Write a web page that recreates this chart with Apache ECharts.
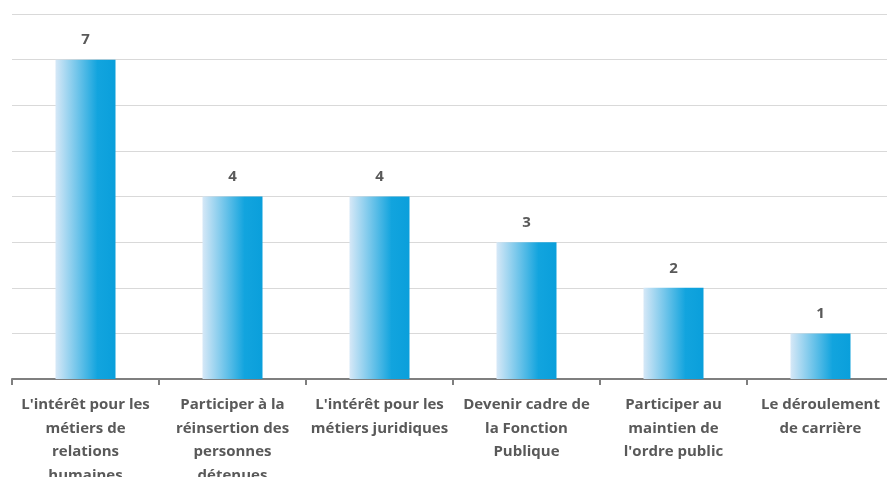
<!DOCTYPE html>
<html>
<head>
<meta charset="utf-8">
<script src="https://cdn.jsdelivr.net/npm/echarts@6/dist/echarts.min.js"></script>
<style>
  html, body { margin: 0; padding: 0; background: #fff; }
  #chart { width: 887px; height: 477px; }
</style>
</head>
<body>
<div id="chart"></div>
<script>
    // categories (line breaks as in the picture)
    const categories = [
        "L'intérêt pour les\nmétiers de\nrelations\nhumaines",
        "Participer à la\nréinsertion des\npersonnes\ndétenues",
        "L'intérêt pour les\nmétiers juridiques",
        "Devenir cadre de\nla Fonction\nPublique",
        "Participer au\nmaintien de\nl'ordre public",
        "Le déroulement\nde carrière"
    ];
    const values = [7, 4, 4, 3, 2, 1];

    let chart = echarts.init(document.getElementById('chart'));
    let option = {
        animation: false,
        grid: {
            left: 12,
            right: -7,
            top: 14,
            bottom: 98,
            outerBoundsMode: 'none',
            containLabel: false
        },
        xAxis: {
            type: 'category',
            data: categories,
            axisLine: {
                lineStyle: { color: '#7f7f7f', width: 2 }
            },
            axisTick: {
                show: true,
                length: 6,
                lineStyle: { color: '#7f7f7f', width: 2 }
            },
            axisLabel: {
                interval: 0,
                margin: 14,
                color: '#595959',
                fontFamily: 'Open Sans',
                fontWeight: 'bold',
                fontSize: 15,
                lineHeight: 23.5
            }
        },
        yAxis: {
            type: 'value',
            min: 0,
            max: 8,
            interval: 1,
            axisLabel: { show: false },
            axisLine: { show: false },
            axisTick: { show: false },
            splitLine: {
                lineStyle: { color: '#d9d9d9', width: 1 }
            }
        },
        series: [{
            type: 'bar',
            data: values,
            barWidth: 60,
            itemStyle: {
                color: new echarts.graphic.LinearGradient(0, 0, 1, 0, [
                    { offset: 0, color: '#d6e8f7' },
                    { offset: 0.7, color: '#12a4de' },
                    { offset: 1, color: '#0a9fdb' }
                ])
            },
            label: {
                show: true,
                position: 'top',
                distance: 12,
                color: '#595959',
                fontFamily: 'Open Sans',
                fontWeight: 'bold',
                fontSize: 15
            }
        }]
    };
    chart.setOption(option);
</script>
</body>
</html>
